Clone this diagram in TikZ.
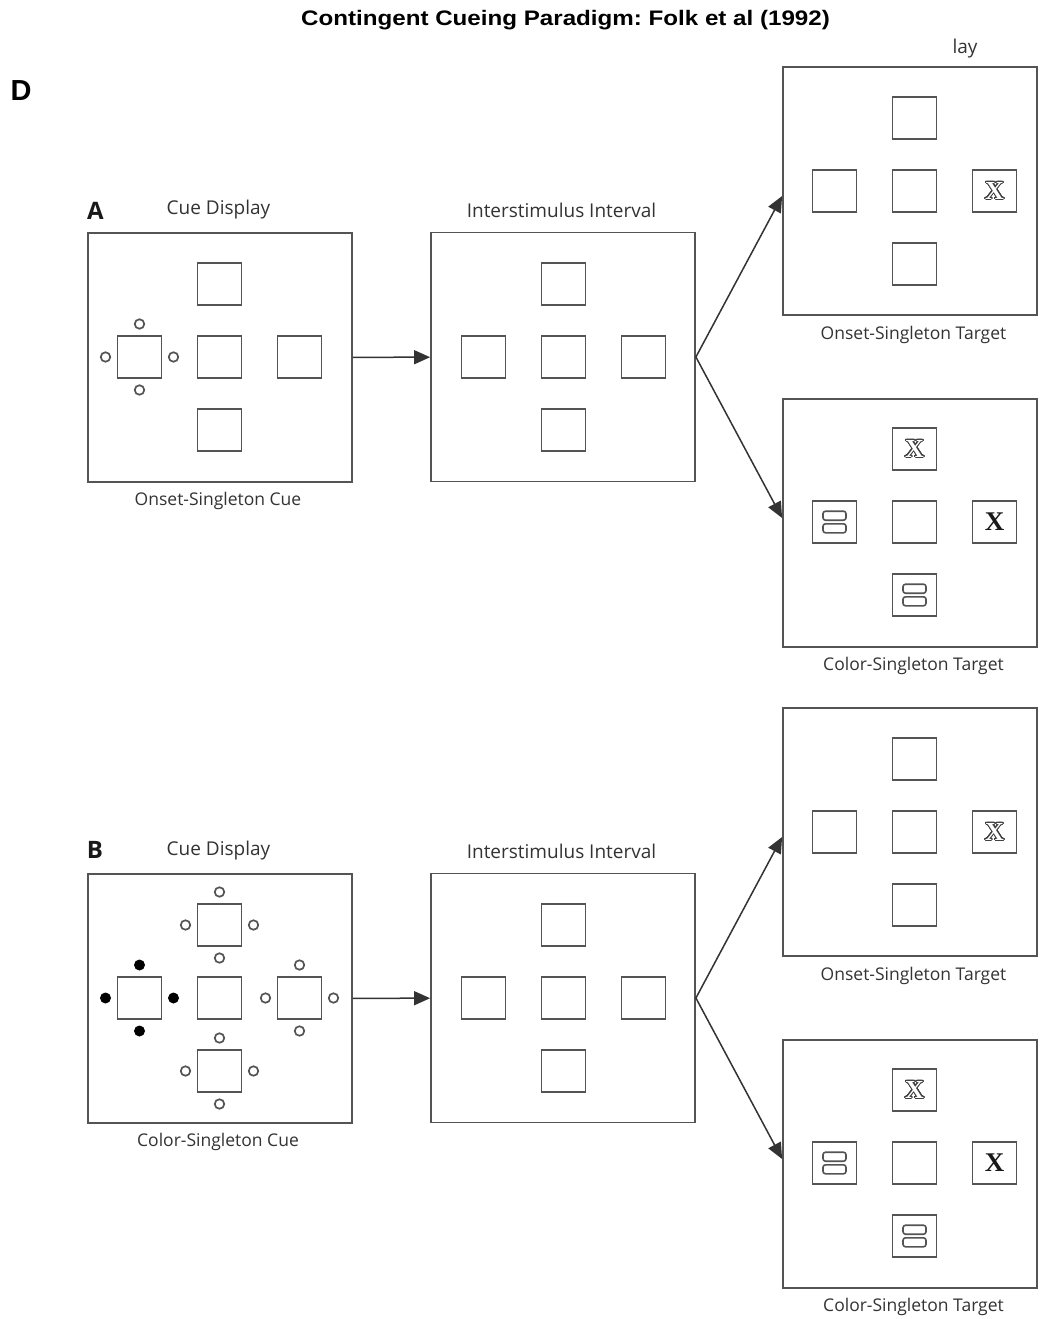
\documentclass[tikz,border=0pt]{standalone}
\usepackage{fontspec}
\usepackage{contour}
\usetikzlibrary{arrows.meta}
\newfontfamily\labelfont{Open Sans}
\newfontfamily\headfont{Liberation Sans}
\newfontfamily\stimfont{Liberation Serif}

\definecolor{frame}{gray}{0.33}
\definecolor{ink}{gray}{0.2}

\contournumber{32}

\tikzset{
  panel/.style={draw=frame, line width=1.8pt, minimum width=264pt, minimum height=249pt, inner sep=0pt},
  tpanel/.style={panel, minimum width=254pt, minimum height=248pt},
  sq/.style={draw=frame, line width=1.8pt, minimum width=44pt, minimum height=42pt, inner sep=0pt},
  cuering/.style={circle, draw=frame, line width=1.7pt, minimum size=9.5pt, inner sep=0pt},
  cuedot/.style={circle, fill=black, minimum size=11pt, inner sep=0pt},
  barbox/.style={draw=frame, line width=1.6pt, rounded corners=2.5pt, minimum width=23pt, minimum height=9pt, inner sep=0pt},
  arr/.style={draw=black!80, line width=1.5pt, -{Triangle[length=16pt,width=14pt]}},
  lbl/.style={text=ink, font=\labelfont\fontsize{19}{22}\selectfont, inner sep=0pt},
  sublbl/.style={text=ink, font=\labelfont\fontsize{17.5}{20}\selectfont, inner sep=0pt},
  tagtext/.style={text=black!90, font=\labelfont\bfseries\fontsize{24}{26}\selectfont, inner sep=0pt},
  boldx/.style={text=black!90, font=\stimfont\bfseries\fontsize{27}{27}\selectfont, inner sep=0pt},
}

% outlined (hollow) serif X
\newcommand\hollowX{{\stimfont\bfseries\fontsize{26}{26}\selectfont
  \contourlength{1pt}\contour{black!75}{\textcolor{white}{X}}}}

% five placeholder squares in a cross around (#2,#3)
\newcommand\fivesq[3]{%
  \node[sq] (#1-t) at (#2,#3-73) {};
  \node[sq] (#1-l) at (#2-80,#3) {};
  \node[sq] (#1-c) at (#2,#3) {};
  \node[sq] (#1-r) at (#2+80,#3) {};
  \node[sq] (#1-b) at (#2,#3+73) {};}

% four cue marks around square #1, drawn in style #2
\newcommand\cuemarks[2]{%
  \node[#2] (#1-n) at ([yshift=33pt]#1.center) {};
  \node[#2] (#1-s) at ([yshift=-33pt]#1.center) {};
  \node[#2] (#1-w) at ([xshift=-34pt]#1.center) {};
  \node[#2] (#1-e) at ([xshift=34pt]#1.center) {};}

% two stacked bars inside square #1
\newcommand\barpair[1]{%
  \node[barbox] (#1-u) at ([yshift=6.3pt]#1.center) {};
  \node[barbox] (#1-d) at ([yshift=-6.3pt]#1.center) {};}

\begin{document}
\frenchspacing
\begin{tikzpicture}[x=1pt,y=-1pt]
\useasboundingbox[fill=white] (0,0) rectangle (1039,1319);

\node[font=\headfont\bfseries\fontsize{21}{24}\selectfont, inner sep=0pt] (title) at (565.5,20)
  {\scalebox{1.15}[1]{Contingent Cueing Paradigm: Folk et al (1992)}};
\node[font=\headfont\bfseries\fontsize{29}{30}\selectfont, inner sep=0pt] (dmark) at (21,91) {D};
\node[lbl] (lay) at (965,49) {lay};

% ---------- row A ----------
\node[tagtext] (tagA) at (95.5,210.5) {A};
\node[lbl] (cueAt) at (218.5,210) {Cue Display};
\node[lbl] (isiAt) at (561.5,210) {Interstimulus Interval};

\node[panel] (cueA) at (220,357.5) {};
\node[panel] (isiA) at (563,357) {};
\node[tpanel] (tgA1) at (910,191) {};
\node[tpanel] (tgA2) at (910,523) {};

\node[sublbl] (cueAs) at (218,501) {Onset-Singleton Cue};
\node[sublbl] (tgA1s) at (913.5,335) {Onset-Singleton Target};
\node[sublbl] (tgA2s) at (913.5,666) {Color-Singleton Target};

\fivesq{ca}{219.5}{357}
\cuemarks{ca-l}{cuering}
\fivesq{ia}{563.5}{357}
\fivesq{oa}{914.5}{191}
\node[inner sep=0pt] (oa-x) at (oa-r) {\hollowX};
\fivesq{ka}{914.5}{522}
\node[inner sep=0pt] (ka-x) at (ka-t) {\hollowX};
\node[boldx] (ka-bx) at (ka-r) {X};
\barpair{ka-l}
\barpair{ka-b}

\draw[arr] (cueA) -- (isiA);
\draw[arr] (isiA.east) -- ([yshift=-5pt]tgA1.west);
\draw[arr] (isiA.east) -- ([yshift=5pt]tgA2.west);

% ---------- row B ----------
\node[tagtext] (tagB) at (95,849.5) {B};
\node[lbl] (cueBt) at (218.5,851) {Cue Display};
\node[lbl] (isiBt) at (561.5,851) {Interstimulus Interval};

\node[panel] (cueB) at (220,998.5) {};
\node[panel] (isiB) at (563,998) {};
\node[tpanel] (tgB1) at (910,832) {};
\node[tpanel] (tgB2) at (910,1164) {};

\node[sublbl] (cueBs) at (218,1142) {Color-Singleton Cue};
\node[sublbl] (tgB1s) at (913.5,976) {Onset-Singleton Target};
\node[sublbl] (tgB2s) at (913.5,1307) {Color-Singleton Target};

\fivesq{cb}{219.5}{998}
\cuemarks{cb-l}{cuedot}
\cuemarks{cb-t}{cuering}
\cuemarks{cb-r}{cuering}
\cuemarks{cb-b}{cuering}
\fivesq{ib}{563.5}{998}
\fivesq{ob}{914.5}{832}
\node[inner sep=0pt] (ob-x) at (ob-r) {\hollowX};
\fivesq{kb}{914.5}{1163}
\node[inner sep=0pt] (kb-x) at (kb-t) {\hollowX};
\node[boldx] (kb-bx) at (kb-r) {X};
\barpair{kb-l}
\barpair{kb-b}

\draw[arr] (cueB) -- (isiB);
\draw[arr] (isiB.east) -- ([yshift=-5pt]tgB1.west);
\draw[arr] (isiB.east) -- ([yshift=5pt]tgB2.west);
\end{tikzpicture}
\end{document}
